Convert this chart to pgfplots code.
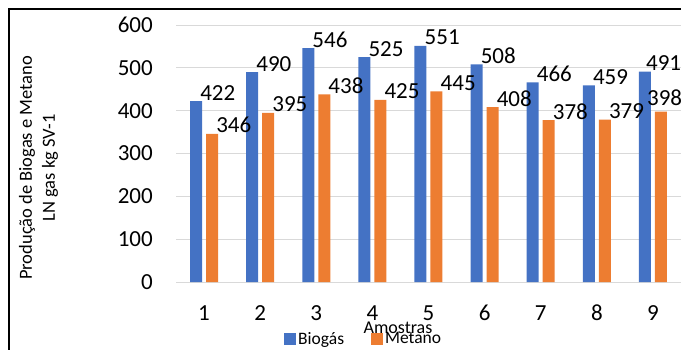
\documentclass[border=0pt]{standalone}
\usepackage{fontspec}
\setmainfont{Carlito}
\usepackage{pgfplots}
\pgfplotsset{compat=1.18}
\definecolor{cblue}{HTML}{4472C4}
\definecolor{corange}{HTML}{ED7D31}
\definecolor{cgrid}{HTML}{D9D9D9}
\pgfplotsset{sqleg/.style={legend image code/.code={\fill[##1] (0bp,-6bp) rectangle (12bp,6bp);}}}
\begin{document}
\begin{tikzpicture}
\path[use as bounding box] (0,0) rectangle (681bp,350bp);
\draw[line width=1.5bp] (9bp,-5bp) -- (9bp,341bp) -- (690bp,341bp);
\begin{axis}[
 at={(176bp,68bp)}, anchor=south west,
 scale only axis, width=505bp, height=257bp,
 xmin=0.5, xmax=9.5, ymin=0, ymax=600,
 xtick={1,...,9}, ytick={0,100,...,600},
 ybar=4bp, bar width=12bp,
 axis line style={draw=none},
 major tick length=0pt,
 ymajorgrids, grid style={cgrid, line width=1bp},
 tick label style={font=\fontsize{23bp}{27bp}\selectfont, inner sep=0pt},
 /pgf/number format/assume math mode=true,
 yticklabel style={anchor=east, xshift=-23bp},
 xticklabel style={anchor=base, yshift=-38bp},
 nodes near coords,
 every node near coord/.append style={font=\fontsize{23bp}{27bp}\selectfont, anchor=base west, inner sep=0pt, xshift=4bp, yshift=1bp, black},
 clip=false,
 xlabel={Amostras},
 xlabel style={at={(axis description cs:0.4396,-0.179)}, anchor=center, font=\fontsize{18bp}{20bp}\selectfont},
 ylabel={Produção de Biogas e Metano\\LN gas kg SV-1},
 ylabel style={at={(axis description cs:-0.2723,0.4436)}, anchor=center, align=center, font=\fontsize{18.5bp}{23bp}\selectfont},
 legend style={at={(axis description cs:0.2139,-0.2218)}, anchor=west, legend columns=2, draw=none, fill=none, inner sep=0pt, font=\fontsize{17.5bp}{20bp}\selectfont, /tikz/every even column/.append style={column sep=25bp}},
 legend cell align=left,
]
\addplot[fill=cblue, draw=none, sqleg, coordinate style/.condition={x==9}{xshift=-3bp}] coordinates {(1,422) (2,490) (3,546) (4,525) (5,551) (6,508) (7,466) (8,459) (9,491)};
\addplot[fill=corange, draw=none, sqleg, coordinate style/.condition={x==9}{xshift=-18bp, yshift=5bp}] coordinates {(1,346) (2,395) (3,438) (4,425) (5,445) (6,408) (7,378) (8,379) (9,398)};
\legend{Biogás, Metano}
\end{axis}
\end{tikzpicture}
\end{document}
